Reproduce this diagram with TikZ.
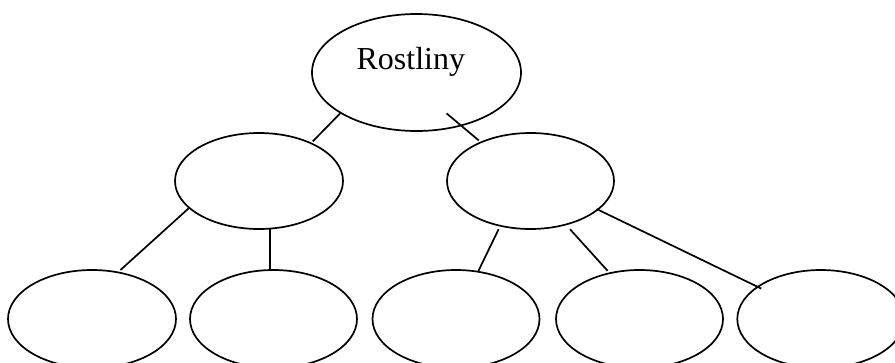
\documentclass[tikz,border=0pt]{standalone}
\usepackage{fontspec}
\setmainfont{Liberation Serif}
\usetikzlibrary{shapes.geometric}
\begin{document}
\begin{tikzpicture}[x=1pt,y=-1pt,
  oval/.style={draw=black,ellipse,line width=1.7pt,inner sep=0pt,outer sep=0pt},
  bigoval/.style={oval,minimum width=209pt,minimum height=117pt},
  midoval/.style={oval,minimum width=168pt,minimum height=96pt},
  lowoval/.style={oval,minimum width=167pt,minimum height=98pt},
  link/.style={draw=black,line width=1.7pt}]
\useasboundingbox (0,0) rectangle (895,362);
\fill[white] (0,0) rectangle (895,362);
\node[bigoval] (root) at (416.5,72.5) {};
\node[anchor=base,inner sep=0pt,font=\fontsize{32}{38}\selectfont] (roottext) at (410.8,69) {Rostliny};
\node[midoval] (L) at (259,181) {};
\node[midoval,minimum width=167pt] (R) at (530.5,181) {};
\node[lowoval,minimum width=168pt] (b1) at (92,319) {};
\node[lowoval] (b2) at (273.5,319) {};
\node[lowoval] (b3) at (456,319) {};
\node[lowoval] (b4) at (639.5,319) {};
\node[lowoval] (b5) at (820.8,319) {};
\draw[link] (root.208.8) -- (L.36.8) [shorten >=2.7pt];
\draw[link,shorten <=-18.75pt,shorten >=2.8pt] (root.310.8) -- (R.142.6);
\draw[link,shorten <=1pt,shorten >=3.5pt] (L.201.6) -- (b1.61.5);
\draw[link] (L.283.0) -- (b2.94.1);
\draw[link,shorten <=3.8pt,shorten >=0.8pt] (R.236.7) -- (b3.65.1);
\draw[link,shorten <=6.4pt,shorten >=3.2pt] (R.309.0) -- (b4.123.9);
\draw[link,shorten <=-1.1pt,shorten >=-3.95pt] (R.337.0) -- (b5.153.85);
\end{tikzpicture}
\end{document}
